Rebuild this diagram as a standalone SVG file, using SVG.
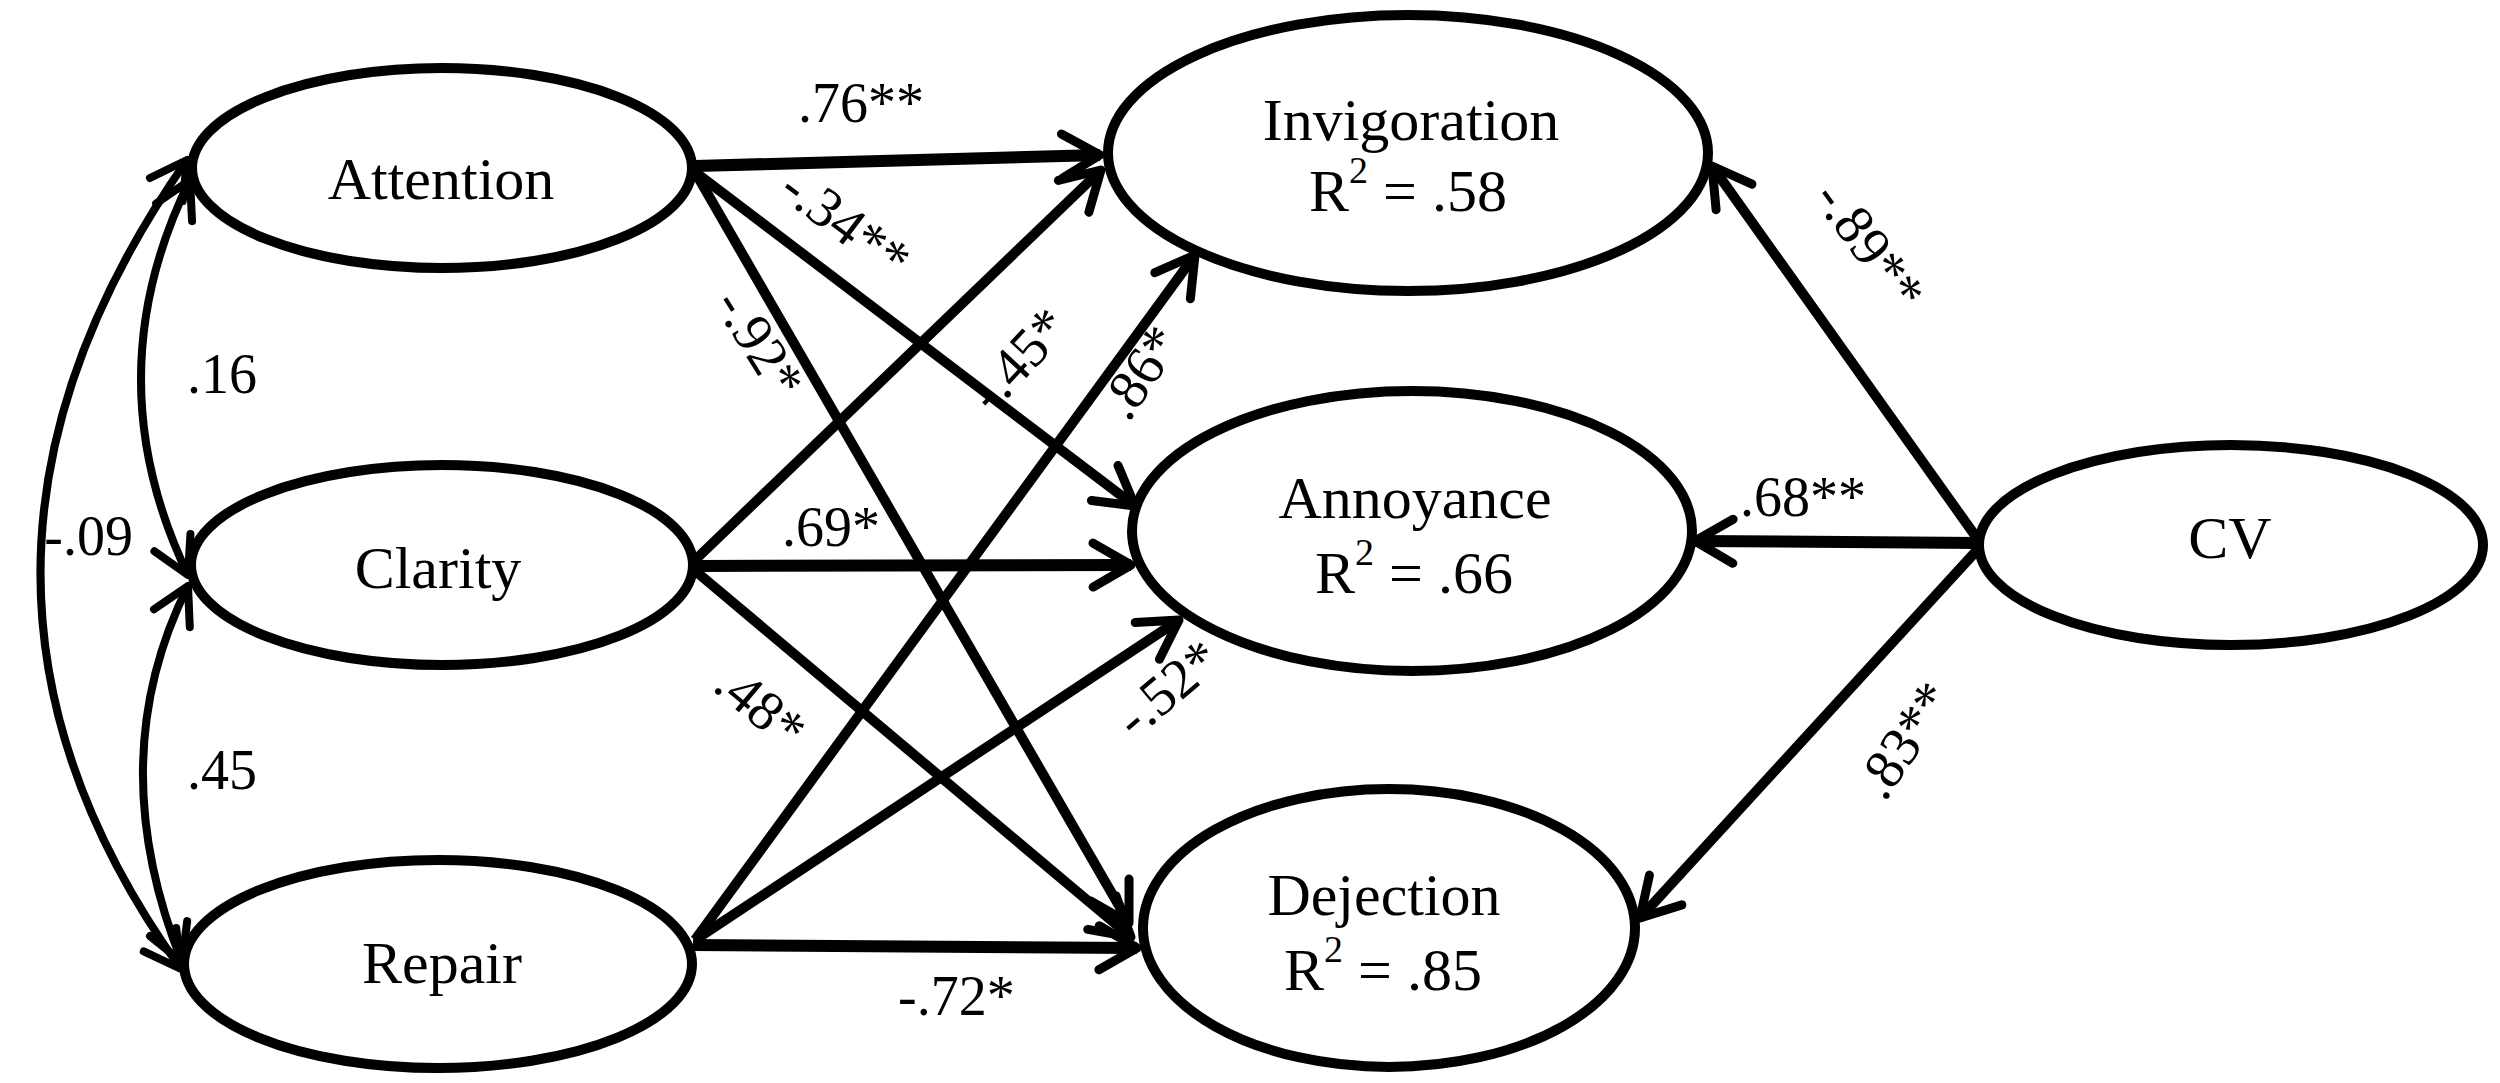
<svg xmlns="http://www.w3.org/2000/svg" width="2500" height="1083" viewBox="0 0 2500 1083">
<style>
.node{fill:#fff;stroke:#000;stroke-width:10}
.lbl{font-family:"Liberation Serif","Times New Roman",serif;font-size:60px;fill:#000;text-anchor:middle}
.el{font-family:"Liberation Serif","Times New Roman",serif;font-size:56px;fill:#000}
.c{fill:none;stroke:#000;stroke-width:10}
.h{stroke-width:12}
.cv{fill:none;stroke:#000;stroke-width:8}
</style>
<defs>
<marker id="ah" markerUnits="userSpaceOnUse" viewBox="-50 -30 60 60" markerWidth="60" markerHeight="60" refX="0" refY="0" orient="auto" overflow="visible">
<path d="M-38,-22 L0,0 L-38,22" fill="none" stroke="#000" stroke-width="9" stroke-linecap="round" stroke-linejoin="round"/>
</marker>
<marker id="ah2" markerUnits="userSpaceOnUse" viewBox="-50 -30 60 60" markerWidth="60" markerHeight="60" refX="0" refY="0" orient="auto-start-reverse" overflow="visible">
<path d="M-36,-20 L0,0 L-36,20" fill="none" stroke="#000" stroke-width="8" stroke-linecap="round" stroke-linejoin="round"/>
</marker>
</defs>
<rect width="2500" height="1083" fill="#fff"/>
<g id="connectors">
<path class="c h" d="M695,166 L1100,155" marker-end="url(#ah)"/>
<path class="c" d="M695,172 L1135,506" marker-end="url(#ah)"/>
<path class="c" d="M695,172 L1129,923" marker-end="url(#ah)"/>
<path class="c" d="M693,562 L1101,170" marker-end="url(#ah)"/>
<path class="c h" d="M695,566 L1131,565" marker-end="url(#ah)"/>
<path class="c" d="M693,569 L1131,937" marker-end="url(#ah)"/>
<path class="c" d="M695,940 L1195,255" marker-end="url(#ah)"/>
<path class="c" d="M695,940 L1179,620" marker-end="url(#ah)"/>
<path class="c h" d="M693,945 L1137,948" marker-end="url(#ah)"/>
<path class="c" d="M1979,541 L1712,166" marker-end="url(#ah)"/>
<path class="c h" d="M1979,543 L1695,541" marker-end="url(#ah)"/>
<path class="c" d="M1979,548 L1640,918" marker-end="url(#ah)"/>
<path class="cv" d="M187,160 Q-103,574 181,969" marker-start="url(#ah2)" marker-end="url(#ah2)"/>
<path class="cv" d="M190,180 Q93,377 188,575" marker-start="url(#ah2)" marker-end="url(#ah2)"/>
<path class="cv" d="M188,586 Q101,760 182,962" marker-start="url(#ah2)" marker-end="url(#ah2)"/>
<text class="el" x="798" y="122">.76**</text>
<text class="el" transform="translate(846,223) rotate(37)" text-anchor="middle" y="19">-.34**</text>
<text class="el" transform="translate(760,343) rotate(58)" text-anchor="middle" y="19">-.92*</text>
<text class="el" transform="translate(1018,359) rotate(-47)" text-anchor="middle" y="19">-.45*</text>
<text class="el" transform="translate(1140,372) rotate(-56)" text-anchor="middle" y="19">.86*</text>
<text class="el" x="782" y="546">.69*</text>
<text class="el" transform="translate(761,706) rotate(40)" text-anchor="middle" y="19">.48*</text>
<text class="el" transform="translate(1167,688) rotate(-40)" text-anchor="middle" y="19">-.52*</text>
<text class="el" x="898" y="1015">-.72*</text>
<text class="el" transform="translate(1870,245) rotate(54)" text-anchor="middle" y="19">-.89**</text>
<text class="el" x="1740" y="516">.68**</text>
<text class="el" transform="translate(1904,740) rotate(-56)" text-anchor="middle" y="19">.83**</text>
<text class="el" x="187" y="393">.16</text>
<text class="el" x="187" y="789">.45</text>
<text class="el" x="133" y="555" text-anchor="end">-.09</text>
</g>
<g id="attention">
<ellipse class="node" cx="442" cy="168" rx="250" ry="100"/>
<text class="lbl" x="441" y="199">Attention</text>
</g>
<g id="clarity">
<ellipse class="node" cx="442" cy="565" rx="251" ry="100"/>
<text class="lbl" x="438" y="588">Clarity</text>
</g>
<g id="repair">
<ellipse class="node" cx="438" cy="964" rx="254" ry="104"/>
<text class="lbl" x="442" y="983">Repair</text>
</g>
<g id="invigoration">
<ellipse class="node" cx="1408" cy="153" rx="300" ry="138"/>
<text class="lbl" x="1411" y="140">Invigoration</text>
<text class="lbl" x="1408" y="211">R<tspan font-size="38" dy="-28">2</tspan><tspan dy="28"> = .58</tspan></text>
</g>
<g id="annoyance">
<ellipse class="node" cx="1412" cy="531" rx="280" ry="140"/>
<text class="lbl" x="1415" y="518">Annoyance</text>
<text class="lbl" x="1414" y="593">R<tspan font-size="38" dy="-28">2</tspan><tspan dy="28"> = .66</tspan></text>
</g>
<g id="dejection">
<ellipse class="node" cx="1389" cy="928" rx="246" ry="139"/>
<text class="lbl" x="1384" y="915">Dejection</text>
<text class="lbl" x="1383" y="990">R<tspan font-size="38" dy="-28">2</tspan><tspan dy="28"> = .85</tspan></text>
</g>
<g id="cv">
<ellipse class="node" cx="2231" cy="545" rx="252" ry="100"/>
<text class="lbl" x="2230" y="558">CV</text>
</g>
</svg>
